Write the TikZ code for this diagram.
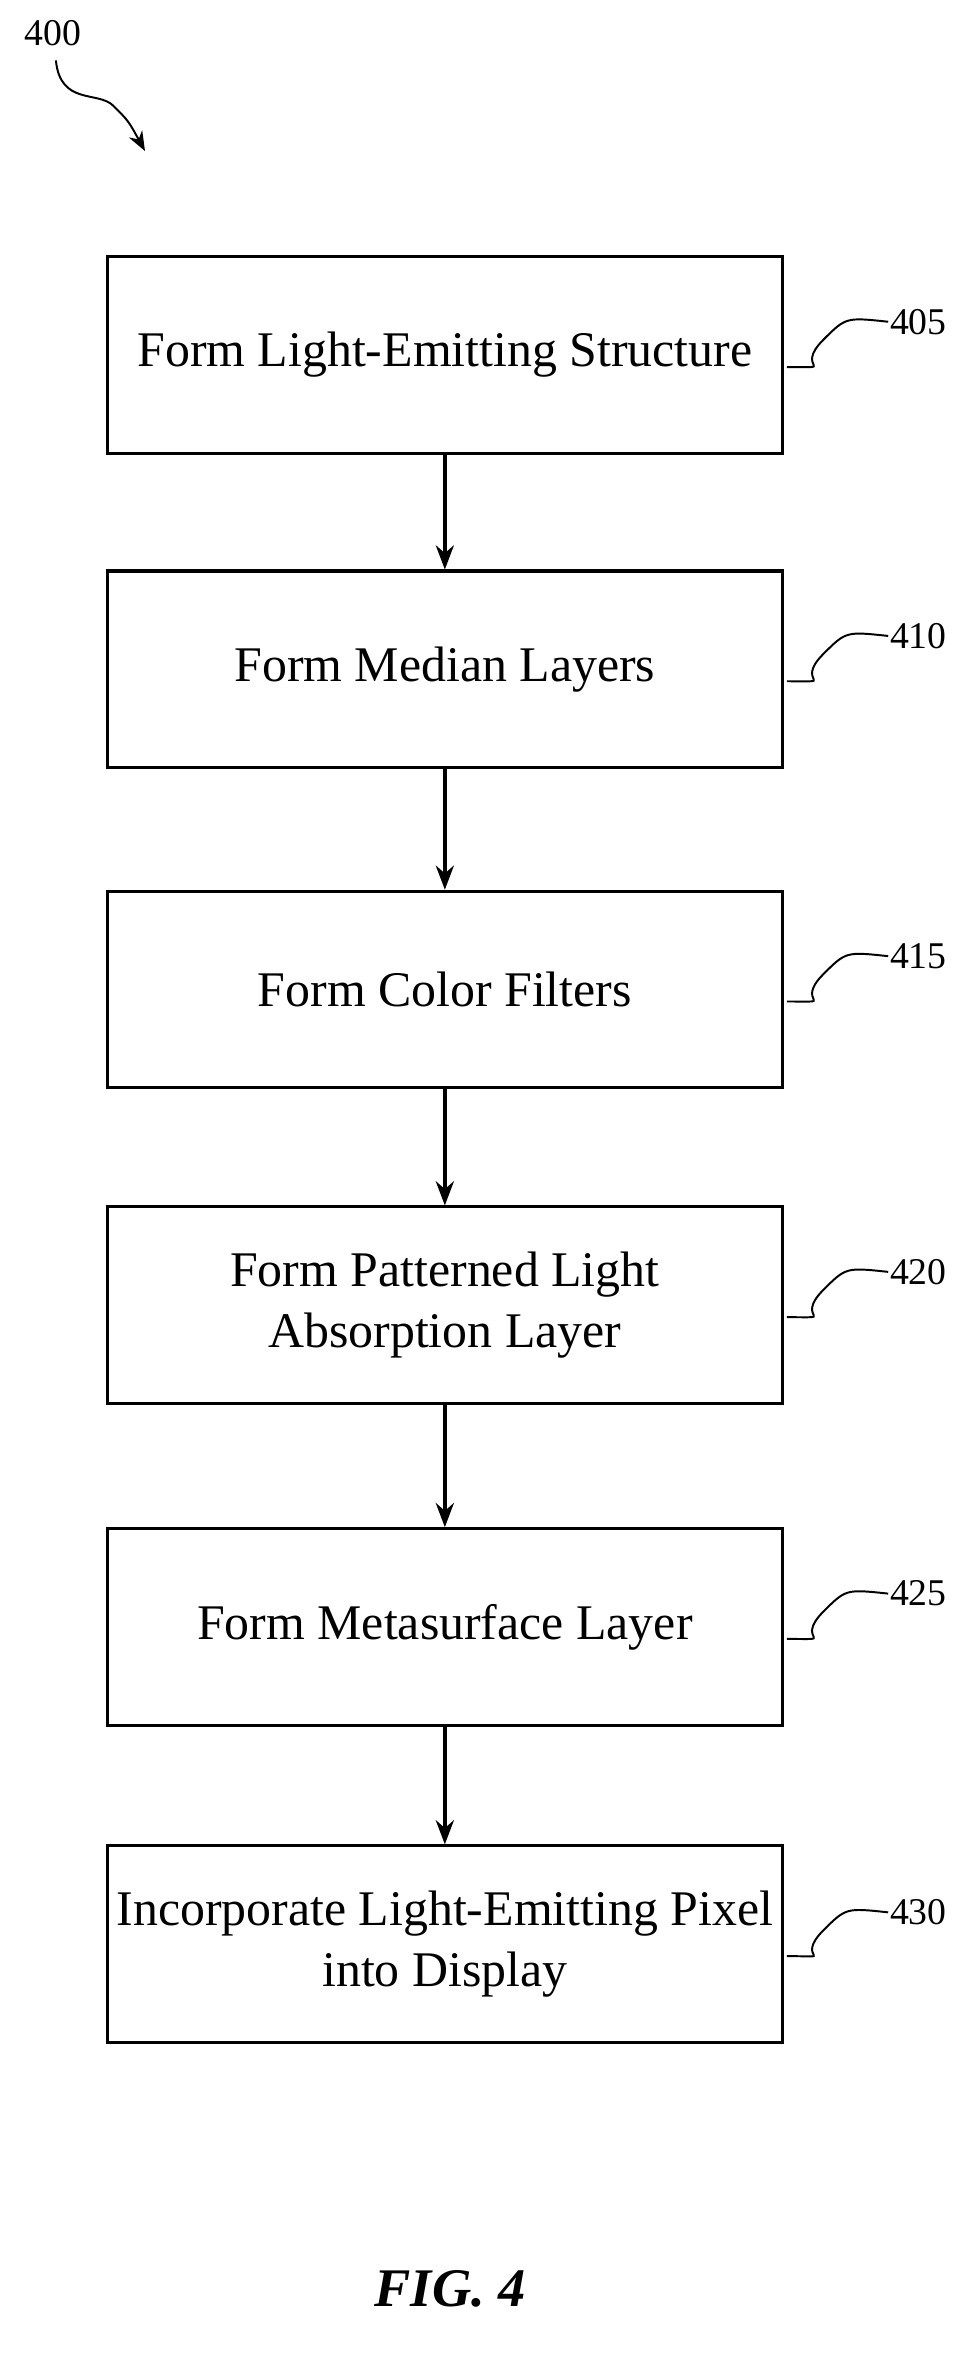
\documentclass[tikz,border=0pt]{standalone}
\usepackage{fontspec}
\setmainfont{Liberation Serif}
\usetikzlibrary{arrows.meta,positioning,calc}

\begin{document}
\begin{tikzpicture}[x=1pt,y=-1pt,
  stepbox/.style={draw,line width=2pt,minimum width=447pt,minimum height=130pt,
    align=center,font=\fontsize{33}{40}\selectfont},
  flow/.style={-{Stealth[length=16pt,width=12pt]},line width=2.2pt},
  refnum/.style={font=\fontsize{25}{30}\selectfont,anchor=west,inner sep=1pt},
  squig/.style={line width=1.3pt}]
\useasboundingbox (0,0) rectangle (640,1567);
% boxes
\node[stepbox] (s405) at (294.5,235) {Form Light-Emitting Structure};
\node[stepbox] (s410) at (294.5,443) {Form Median Layers};
\node[stepbox] (s415) at (294.5,655) {Form Color Filters};
\node[stepbox] (s420) at (294.5,864) {Form Patterned Light\\Absorption Layer};
\node[stepbox] (s425) at (294.5,1077) {Form Metasurface Layer};
\node[stepbox] (s430) at (294.5,1287) {Incorporate Light-Emitting Pixel\\into Display};
% arrows
\foreach \a/\b in {s405/s410,s410/s415,s415/s420,s420/s425,s425/s430}
  \draw[flow] (\a.south) -- (\b.north);
% reference numbers
\foreach \n/\y in {405/213,410/421,415/633,420/842,425/1055,430/1266}{
  \node[refnum] (r\n) at (588,\y) {\n};
  \draw[squig] ($(s\n.east)+(2,8)$) .. controls +(35,0) and +(-20,20) .. (545,\y+12)
    .. controls +(15,-15) .. (r\n.west);
}
\node[font=\fontsize{25}{30}\selectfont] (fig) at (35,22) {400};
\coordinate (figtip) at (96,100);
\draw[squig,-{Stealth[length=13pt,width=10pt]}] (37,40) .. controls (40,70) and (65,60) .. (75,70)
  .. controls (85,80) .. (figtip);
\node[font=\bfseries\itshape\fontsize{36}{42}\selectfont] (cap) at (298,1515) {FIG. 4};
\end{tikzpicture}
\end{document}
